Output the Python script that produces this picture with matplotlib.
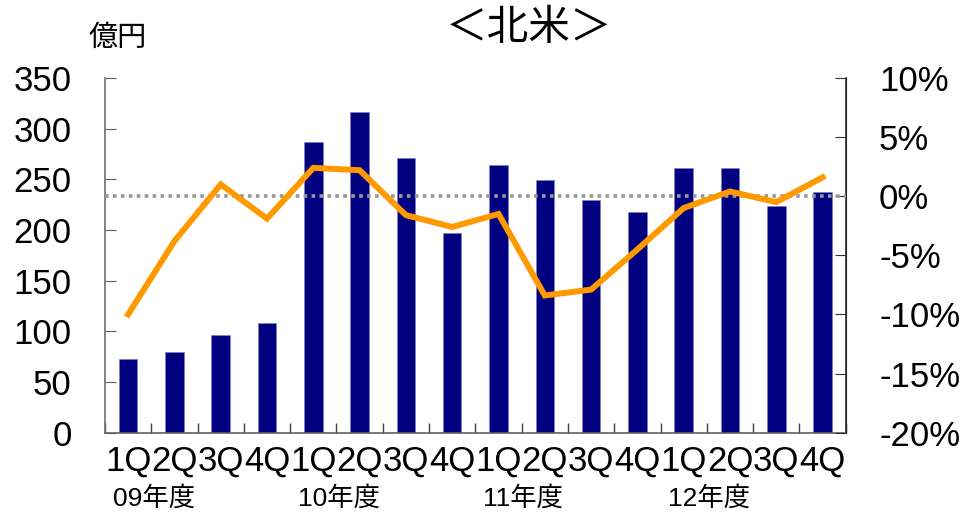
import matplotlib
matplotlib.use("Agg")
import matplotlib.pyplot as plt
import matplotlib.transforms as mtransforms
import numpy as np

plt.rcParams['font.family'] = ['Liberation Sans', 'Noto Sans CJK JP']

# Quarterly sales (億円) and growth rate (%) — North America
quarters = ["1Q", "2Q", "3Q", "4Q"] * 4
fiscal_years = ["09年度", "10年度", "11年度", "12年度"]
sales = [73, 80, 96, 108, 287, 316, 271, 197, 264, 249, 230, 218, 261, 261, 224, 237]
growth = [-10.0, -3.8, 1.0, -1.9, 2.4, 2.2, -1.6, -2.6, -1.5, -8.4, -7.9, -4.5, -1.0, 0.4, -0.5, 1.6]

left_ticks = [0, 50, 100, 150, 200, 250, 300, 350]
right_ticks = [-20, -15, -10, -5, 0, 5, 10]

fig = plt.figure(figsize=(9.71, 5.2), dpi=100)
ax = fig.add_axes([0.1081, 0.168, 0.7629, 0.682])
ax2 = ax.twinx()

x = np.arange(len(sales))
ax.bar(x, sales, width=0.4, color="#000080", edgecolor="#8080c0", linewidth=0.4, zorder=2)
ax.set_xlim(-0.5, len(sales) - 0.5)
ax.set_ylim(0, 350)
ax.set_yticks(left_ticks)
ax.set_yticklabels([str(v) for v in left_ticks])

ax2.axhline(0, color="#999999", linestyle=(0, (1, 1.2)), linewidth=2.6, zorder=3)
ax2.plot(x, growth, color="#FF9900", linewidth=4.3, solid_joinstyle="miter", zorder=4)
ax2.set_ylim(-20, 10)
ax2.set_yticks(right_ticks)
ax2.set_yticklabels([f"{v}%" for v in right_ticks])

ax.set_xticks(x)
ax.set_xticklabels(quarters)
ax.set_xticks(np.arange(-0.5, len(sales)), minor=True)
ax.tick_params(axis="x", which="major", length=0, pad=9, labelsize=25)
ax.tick_params(axis="x", which="minor", direction="in", length=7, color="#404040", width=1)
ax.tick_params(axis="y", direction="in", length=8, pad=24, labelsize=25, color="#606060")
ax2.tick_params(axis="y", direction="in", length=8, pad=24, labelsize=25, color="#303030")

for a in (ax, ax2):
    a.spines["top"].set_visible(False)
ax.spines["left"].set_color("#707070")
ax.spines["bottom"].set_color("#606060")
ax2.spines["left"].set_visible(False)
ax2.spines["bottom"].set_visible(False)
ax2.spines["right"].set_color("#303030")
for s in ("left", "bottom"):
    ax.spines[s].set_linewidth(1.2)
ax2.spines["right"].set_linewidth(1.2)

# Fiscal-year captions under each group of four quarters
trans = mtransforms.blended_transform_factory(ax.transData, fig.transFigure)
for i, fy in enumerate(fiscal_years):
    fig.text(i * 4 - 0.33, 1 - 498 / 520, fy, transform=trans, ha="left", va="center", fontsize=19)

fig.text(0.545, 1 - 29 / 520, "＜北米＞", ha="center", va="center", fontsize=30)
fig.text(0.1215, 1 - 38 / 520, "億円", ha="center", va="center", fontsize=21)

fig.savefig("out.png", dpi=100)
